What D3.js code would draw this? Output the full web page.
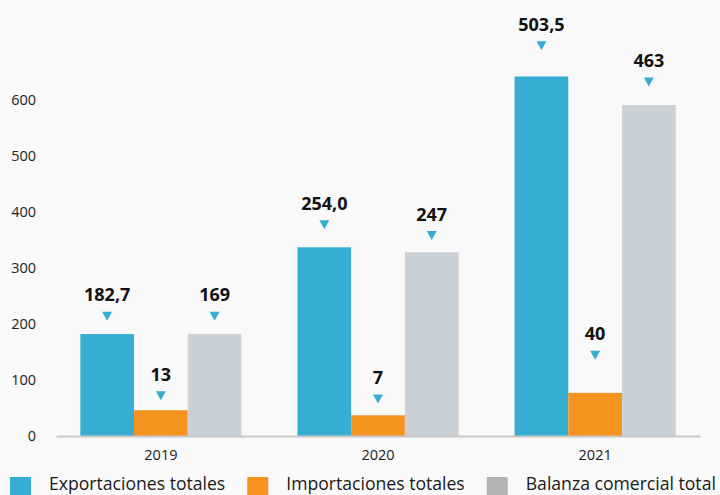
<!DOCTYPE html>
<html>
<head>
<meta charset="utf-8">
<script src="https://cdn.jsdelivr.net/npm/d3@7"></script>
<style>
  html, body { margin: 0; padding: 0; background: #f9f9f9; }
  svg { display: block; font-family: "Open Sans", sans-serif; }
</style>
</head>
<body>
<svg id="chart" width="720" height="495"></svg>
<script>
// Bar chart: exportaciones, importaciones y balanza comercial por año

const years = ["2019", "2020", "2021"];
const seriesNames = ["Exportaciones totales", "Importaciones totales", "Balanza comercial total"];
const seriesColors = ["#38add3", "#f6931f", "#c9d1d7"];
const legendColors = ["#38add3", "#f6931f", "#b3b3b3"];

// bar heights as drawn on the axis
const exportBars = [182, 337, 642];
const importBars = [46, 37, 77];
const balanceBars = [182, 328, 591];

// printed value labels
const exportLabels = ["182,7", "254,0", "503,5"];
const importLabels = ["13", "7", "40"];
const balanceLabels = ["169", "247", "463"];

// level (axis units) where each label marker sits
const exportMarks = [206, 369, 689];
const importMarks = [64, 58, 136];
const balanceMarks = [206, 350, 624];

const yTicks = [0, 100, 200, 300, 400, 500, 600];

const width = 720;
const height = 495;

const svg = d3.select("#chart");

const x = d3.scaleBand()
  .domain(years)
  .range([56, 700])
  .paddingInner(0.258)
  .paddingOuter(0.112);

const xSub = d3.scaleBand()
  .domain(d3.range(seriesNames.length))
  .range([0, x.bandwidth()]);

const y = d3.scaleLinear()
  .domain([0, 600])
  .range([436, 100]);

const bars = [exportBars, importBars, balanceBars];
const labels = [exportLabels, importLabels, balanceLabels];
const marks = [exportMarks, importMarks, balanceMarks];

const rows = [];
years.forEach((yr, i) => {
  bars.forEach((s, j) => {
    rows.push({ year: yr, series: j, value: s[i], label: labels[j][i], mark: marks[j][i] });
  });
});

// y axis labels (no line, no ticks)
const yAxis = svg.append("g")
  .attr("transform", "translate(44,0)")
  .call(d3.axisLeft(y).tickValues(yTicks).tickSize(0).tickPadding(8).tickFormat(d3.format("d")));
yAxis.select(".domain").remove();
yAxis.selectAll("text")
  .attr("font-family", "Open Sans, sans-serif")
  .attr("font-size", 14.5)
  .attr("fill", "#222");

// bars
svg.append("g")
  .selectAll("rect")
  .data(rows)
  .enter()
  .append("rect")
  .attr("x", (d) => x(d.year) + xSub(d.series))
  .attr("y", (d) => y(d.value))
  .attr("width", xSub.bandwidth())
  .attr("height", (d) => y(0) - y(d.value))
  .attr("fill", (d) => seriesColors[d.series]);

// x axis
const xAxis = svg.append("g")
  .attr("transform", `translate(0,${y(0)})`)
  .call(d3.axisBottom(x).tickSize(0).tickPadding(14));
xAxis.select(".domain")
  .attr("stroke", "#c8c8c8")
  .attr("stroke-width", 2);
xAxis.selectAll("text")
  .attr("font-family", "Open Sans, sans-serif")
  .attr("font-size", 14.5)
  .attr("fill", "#222");

// markers and value labels
const notes = svg.append("g")
  .selectAll("g")
  .data(rows)
  .enter()
  .append("g")
  .attr("transform", (d) => `translate(${x(d.year) + xSub(d.series) + xSub.bandwidth() / 2},${y(d.mark)})`);

notes.append("path")
  .attr("d", "M-5,-9L5,-9L0,0Z")
  .attr("fill", seriesColors[0]);

notes.append("text")
  .attr("y", -19.5)
  .attr("text-anchor", "middle")
  .attr("font-size", 18)
  .attr("font-weight", "bold")
  .attr("fill", "#111")
  .text((d) => d.label);

// legend
const legend = svg.append("g").attr("id", "legend");
let cursor = 10;
seriesNames.forEach((name, i) => {
  legend.append("rect")
    .attr("x", cursor)
    .attr("y", 477)
    .attr("width", 21)
    .attr("height", 21)
    .attr("fill", legendColors[i]);
  const t = legend.append("text")
    .attr("x", cursor + 39)
    .attr("y", 490)
    .attr("font-size", 17.6)
    .attr("fill", "#1a1a1a")
    .text(name);
  cursor = cursor + 39 + t.node().getComputedTextLength() + 22;
});
</script>
</body>
</html>
